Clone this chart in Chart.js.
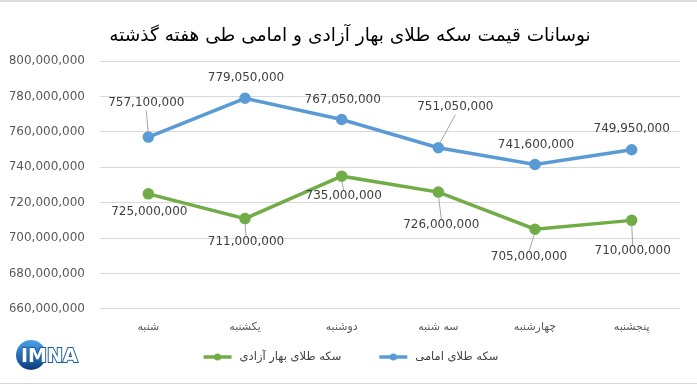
<!DOCTYPE html>
<html>
<head>
<meta charset="utf-8">
<script src="https://cdn.jsdelivr.net/npm/chart.js@4.4.0/dist/chart.umd.min.js"></script>
<style>
    html, body { margin: 0; padding: 0; background: #fff; }
    #wrap { width: 697px; height: 386px; position: relative; }
</style>
</head>
<body>
<div id="wrap"><canvas id="priceChart"></canvas></div>
<script>
// Chart data
const days = ['شنبه', 'یکشنبه', 'دوشنبه', 'سه شنبه', 'چهارشنبه', 'پنجشنبه'];
const emamiPrices = [757100000, 779050000, 767050000, 751050000, 741600000, 749950000];
const baharPrices = [725000000, 711000000, 735000000, 726000000, 705000000, 710000000];
const yMin = 660000000;
const yMax = 800000000;
const yStep = 20000000;

// label placement (pixel shift from the point)
const emamiLabelShift = [[-2, -34], [1, -20], [1, -20], [17, -41], [1, -20], [0, -21]];
const baharLabelShift = [[1, 18], [1, 23], [2, 20], [3, 33], [-6, 28], [1, 31]];

const blue = '#5b9bd5';
const green = '#70ad47';
const fontFamily = '"DejaVu Sans", sans-serif';

function fmt(v) {
    return v.toLocaleString('en-US');
}

// white background + frame lines
const background = {
    id: 'background',
    beforeDraw(chart) {
        const ctx = chart.ctx;
        ctx.save();
        ctx.fillStyle = '#fff';
        ctx.fillRect(0, 0, chart.width, chart.height);
        ctx.fillStyle = '#dcdcdc';
        ctx.fillRect(0, 0, chart.width, 2);
        ctx.strokeStyle = '#d4d4d4';
        ctx.lineWidth = 1;
        ctx.beginPath();
        ctx.moveTo(0, 383.5);
        ctx.lineTo(chart.width, 383.5);
        ctx.stroke();
        ctx.restore();
    }
};

// value labels with leader lines
const pointLabels = {
    id: 'pointLabels',
    afterDatasetsDraw(chart) {
        const ctx = chart.ctx;
        ctx.save();
        ctx.font = '12px ' + fontFamily;
        ctx.fillStyle = '#404040';
        ctx.textAlign = 'center';
        ctx.textBaseline = 'middle';
        chart.data.datasets.forEach((ds, i) => {
            const meta = chart.getDatasetMeta(i);
            meta.data.forEach((pt, j) => {
                const shift = ds.labelShift[j];
                const lx = pt.x + shift[0];
                const ly = pt.y + shift[1];
                const dir = shift[1] < 0 ? -1 : 1;
                const endY = dir < 0 ? ly + 8 : ly - 6;
                const startY = pt.y + dir * 5;
                if ((endY - startY) * dir > 8) {
                    ctx.strokeStyle = '#a6a6a6';
                    ctx.lineWidth = 1;
                    ctx.beginPath();
                    ctx.moveTo(pt.x + (lx - pt.x) * 0.1, startY);
                    ctx.lineTo(lx, endY);
                    ctx.stroke();
                }
                ctx.fillText(fmt(ds.data[j]), lx, ly);
            });
        });
        ctx.restore();
    }
};

// legend at the bottom: line sample with a dot, then the name
const bottomLegend = {
    id: 'bottomLegend',
    afterDraw(chart) {
        const ctx = chart.ctx;
        const order = [1, 0];
        const markW = 28, gap = 8, itemGap = 38, y = 357;
        ctx.save();
        ctx.font = '11.5px ' + fontFamily;
        ctx.textBaseline = 'middle';
        ctx.textAlign = 'left';
        const widths = order.map(i => ctx.measureText(chart.data.datasets[i].label).width);
        let total = 0;
        widths.forEach(w => { total += markW + gap + w; });
        total += itemGap * (order.length - 1);
        let x = 351 - total / 2;
        order.forEach((i, k) => {
            const ds = chart.data.datasets[i];
            ctx.strokeStyle = ds.borderColor;
            ctx.lineWidth = 3.5;
            ctx.beginPath();
            ctx.moveTo(x, y);
            ctx.lineTo(x + markW, y);
            ctx.stroke();
            ctx.fillStyle = ds.borderColor;
            ctx.beginPath();
            ctx.arc(x + markW / 2, y, 3.6, 0, Math.PI * 2);
            ctx.fill();
            ctx.fillStyle = '#404040';
            ctx.fillText(ds.label, x + markW + gap, y);
            x += markW + gap + widths[k] + itemGap;
        });
        ctx.restore();
    }
};

// IMNA logo, bottom left
const logo = {
    id: 'logo',
    afterDraw(chart) {
        const ctx = chart.ctx;
        ctx.save();
        const grad = ctx.createLinearGradient(0, 340, 0, 370);
        grad.addColorStop(0, '#4aa3e8');
        grad.addColorStop(1, '#0a3a78');
        ctx.fillStyle = grad;
        ctx.beginPath();
        ctx.arc(31, 355, 15, 0, Math.PI * 2);
        ctx.fill();
        ctx.font = 'bold 19px ' + fontFamily;
        ctx.textBaseline = 'alphabetic';
        ctx.lineWidth = 2;
        ctx.strokeStyle = '#1d5fa8';
        ctx.strokeText('IMNA', 21, 362);
        ctx.fillStyle = '#fff';
        ctx.fillText('IMNA', 21, 362);
        ctx.restore();
    }
};

document.addEventListener('DOMContentLoaded', function () {
    const ctx = document.getElementById('priceChart');

    new Chart(ctx, {
        type: 'line',
        data: {
            labels: days,
            datasets: [{
                label: 'سکه طلای امامی',
                data: emamiPrices,
                labelShift: emamiLabelShift,
                borderColor: blue,
                backgroundColor: blue,
                borderWidth: 3.5,
                pointRadius: 4,
                pointHoverRadius: 4,
                tension: 0
            }, {
                label: 'سکه طلای بهار آزادی',
                data: baharPrices,
                labelShift: baharLabelShift,
                borderColor: green,
                backgroundColor: green,
                borderWidth: 3.5,
                pointRadius: 4,
                pointHoverRadius: 4,
                tension: 0
            }]
        },
        options: {
            responsive: true,
            maintainAspectRatio: false,
            animation: false,
            layout: { padding: { left: 10, right: 7, top: 0, bottom: 48 } },
            plugins: {
                title: {
                    display: true,
                    text: 'نوسانات قیمت سکه طلای بهار آزادی و امامی طی هفته گذشته',
                    color: '#000',
                    font: { family: fontFamily, size: 18.5, weight: 'normal' },
                    padding: { top: 25, bottom: 14 }
                },
                legend: { display: false },
                tooltip: { enabled: false }
            },
            scales: {
                x: {
                    offset: true,
                    grid: { display: false },
                    border: { display: false },
                    ticks: {
                        color: '#595959',
                        padding: 4,
                        font: { family: fontFamily, size: 11 }
                    }
                },
                y: {
                    min: yMin,
                    max: yMax,
                    afterFit: function (scale) {
                        scale.width = 90;
                    },
                    grid: { color: '#d9d9d9', drawTicks: false },
                    border: { display: false },
                    ticks: {
                        stepSize: yStep,
                        padding: 15,
                        color: '#595959',
                        font: { family: fontFamily, size: 12 },
                        callback: function (value) {
                            return fmt(value);
                        }
                    }
                },
                // empty right-hand axis, only keeps the plot off the right edge
                yRight: {
                    position: 'right',
                    min: yMin,
                    max: yMax,
                    afterFit: function (scale) {
                        scale.width = 10;
                    },
                    grid: { display: false },
                    border: { display: false },
                    ticks: { display: false }
                }
            }
        },
        plugins: [background, pointLabels, bottomLegend, logo]
    });
});
</script>
</body>
</html>
